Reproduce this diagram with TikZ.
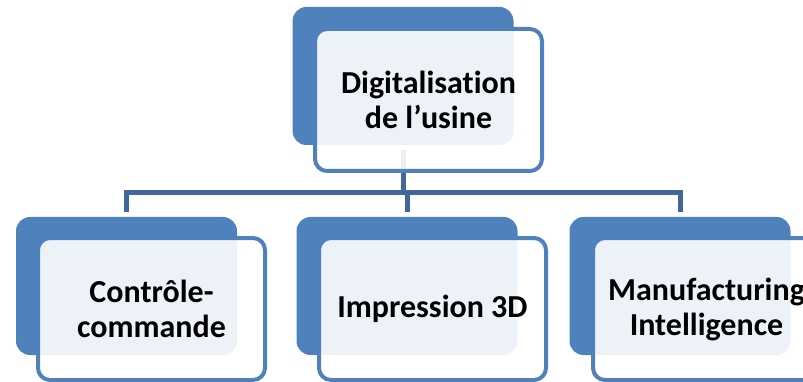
\documentclass[tikz,border=0pt]{standalone}
\usepackage{fontspec}
\setmainfont[Ligatures=NoCommon]{Carlito}
\definecolor{accent}{RGB}{79,129,189}
\definecolor{connc}{RGB}{65,104,154}
\begin{document}
\begin{tikzpicture}[x=1pt,y=-1pt,
  backbox/.style={rectangle, rounded corners=14pt, fill=accent, draw=none,
    minimum width=221pt, minimum height=138pt, inner sep=0pt},
  frontbox/.style={rectangle, rounded corners=12pt, fill=white, fill opacity=0.9,
    text opacity=1, draw=accent, line width=4pt, minimum width=227pt,
    minimum height=142pt, inner sep=0pt, align=center,
    font=\bfseries\fontsize{32}{35}\selectfont},
  conn/.style={draw=connc, line width=5pt}]
\useasboundingbox (0,0) rectangle (803,382);
\clip (0,0) rectangle (803,382);
% back boxes
\node[backbox] (tb) at (403,76) {};
\node[backbox] (lb) at (126.5,286) {};
\node[backbox] (mb) at (407,286) {};
\node[backbox] (rb) at (680,286) {};
% connectors
\coordinate (jc) at (403,193);
\draw[conn] ([yshift=-5pt]tb.south) -- (jc);
\draw[conn] (jc) -| ([yshift=5pt]lb.north);
\draw[conn] (jc) -| ([yshift=5pt]rb.north);
\draw[conn] (jc -| mb.north) -- ([yshift=5pt]mb.north);
% front boxes
\node[frontbox] (tf) at (428.5,100) {Digitalisation\\de l’usine};
\node[frontbox] (lf) at (151.5,309) {Contrôle-\\commande};
\node[frontbox] (mf) at (432.5,309) {Impression 3D};
\node[frontbox] (rf) at (706.5,309) {Manufacturing\\Intelligence};
\end{tikzpicture}
\end{document}
